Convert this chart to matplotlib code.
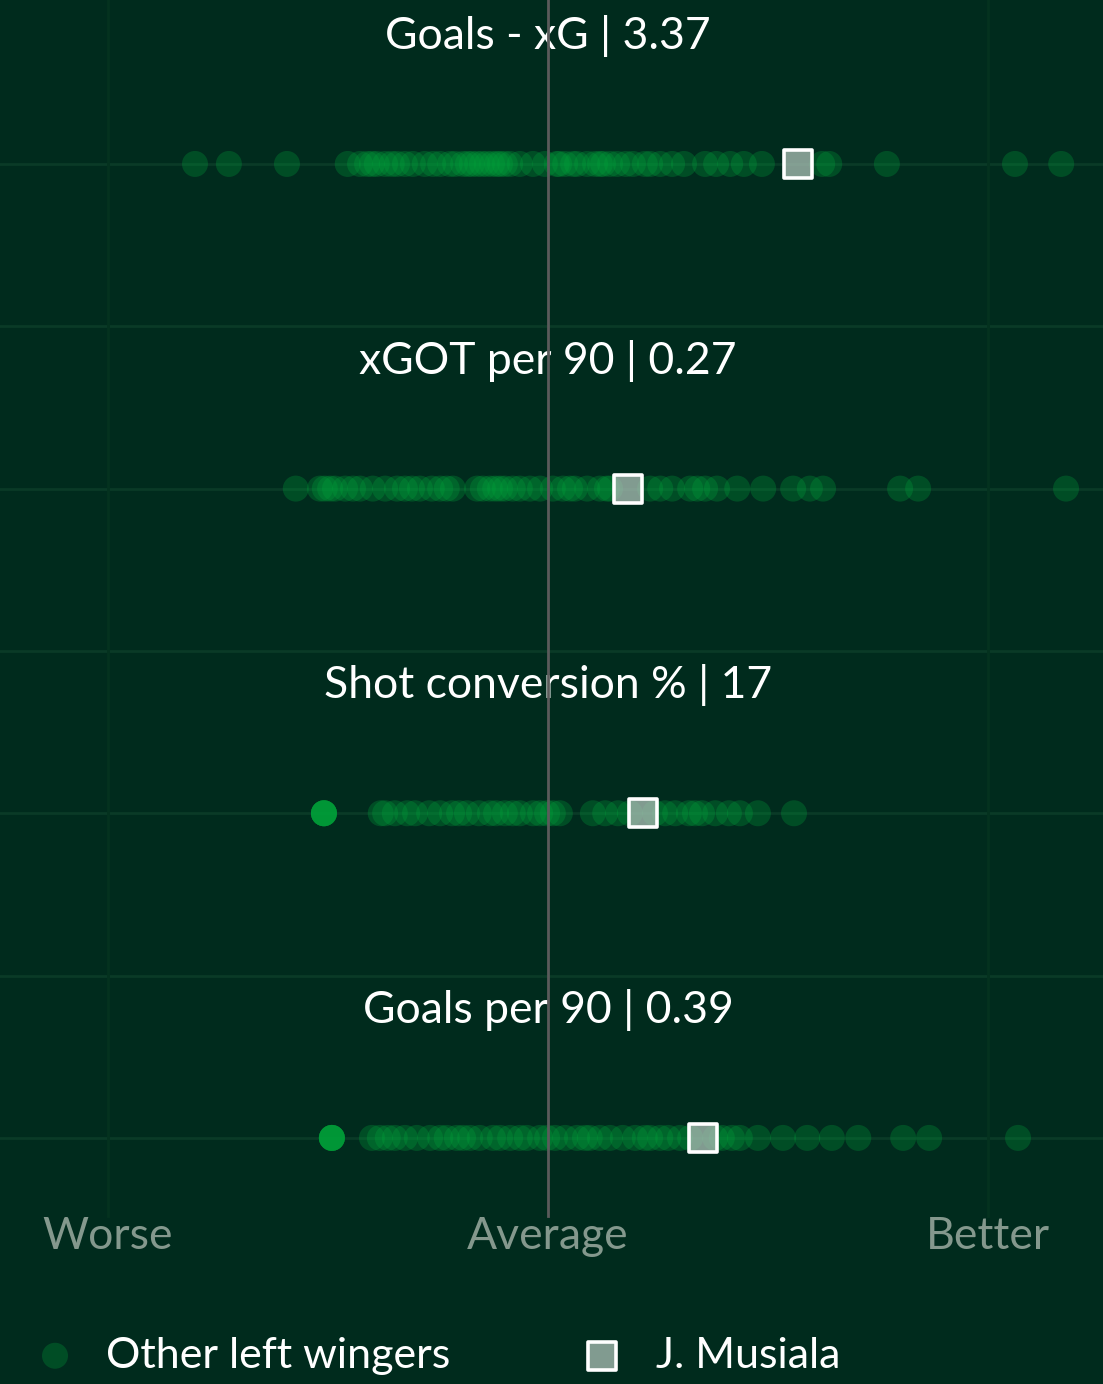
import matplotlib
matplotlib.use("Agg")
import matplotlib.pyplot as plt
from matplotlib import font_manager

# ---------------- data (scale: -100 = worse, 0 = average, 100 = better) -------------
metrics = ["Goals - xG", "xGOT per 90", "Shot conversion %", "Goals per 90"]
musiala_labels = ["3.37", "0.27", "17", "0.39"]
musiala_scores = [56.8, 18.2, 21.6, 35.2]

goals_minus_xg = [-80.2, -72.5, -59.3, -45.5, -42.7, -41.1, -40.0, -38.9, -37.0, -35.5,
                  -34.3, -32.5, -30.7, -28.0, -26.1, -24.5, -22.3, -21.1, -19.3, -18.2,
                  -17.3, -16.1, -15.0, -13.9, -12.7, -11.6, -10.9, -9.8, -8.6, -6.4,
                  -3.4, -0.7, 2.0, 2.5, 3.9, 5.7, 6.6, 8.9, 10.7, 11.8, 12.5, 14.1,
                  15.7, 17.7, 19.3, 22.0, 23.2, 25.5, 28.2, 30.9, 35.7, 38.2, 41.4,
                  44.5, 48.6, 62.3, 63.9, 77.0, 106.1, 116.6]
xgot_per90 = [-57.3, -51.8, -50.7, -49.5, -48.4, -46.1, -44.3, -42.7, -39.8, -37.0,
              -34.3, -32.5, -30.9, -29.1, -26.4, -24.5, -23.0, -21.6, -16.1, -14.8,
              -13.2, -12.0, -10.9, -9.8, -8.0, -6.4, -4.1, -1.8, 1.1, 3.4, 5.0, 6.1,
              8.9, 11.8, 13.4, 14.1, 23.2, 25.5, 28.2, 32.3, 33.9, 35.7, 38.4, 43.0,
              48.9, 55.7, 59.5, 62.5, 80.0, 84.1, 117.7]
shot_conversion = [-50.9, -50.9, -50.9, -50.9, -50.9, -50.9, -50.9,
                   -38.0, -37.0, -34.8, -32.0, -30.2, -27.0, -24.5, -21.8, -20.2,
                   -18.4, -15.7, -13.2, -11.8, -9.8, -8.0, -6.4, -3.4, -1.8, -0.2,
                   1.1, 2.7, 10.2, 13.0, 15.9, 18.6, 24.3, 26.6, 28.9, 32.0, 33.4,
                   35.0, 38.0, 41.1, 43.6, 47.7, 55.9]
goals_per90 = [-49.1, -49.1, -49.1, -49.1, -49.1, -49.1, -49.1,
               -40.0, -38.2, -36.4, -34.8, -32.5, -29.8, -26.8, -24.5, -23.0, -20.7,
               -19.3, -17.7, -15.5, -12.5, -10.9, -8.6, -6.4, -4.8, -1.8, -0.2, 1.6,
               3.9, 6.6, 8.4, 9.5, 11.8, 14.1, 17.0, 19.8, 22.0, 23.2, 25.5, 27.3,
               30.0, 32.3, 38.0, 39.5, 41.8, 43.6, 47.7, 53.4, 58.9, 64.5, 70.5,
               80.7, 86.6, 106.8]
others = [goals_minus_xg, xgot_per90, shot_conversion, goals_per90]

scale_labels = ["Worse", "Average", "Better"]
scale_positions = [-100, 0, 100]
legend_labels = ["Other left wingers", "J. Musiala"]

# ---------------- style ----------------
BG = "#002b1d"
GRID = "#0a3a27"
DOT = "#00a33a"
SQ_FILL = (0.68, 0.76, 0.72, 0.75)

avail = {f.name for f in font_manager.fontManager.ttflist}
FONT = "Lato" if "Lato" in avail else "DejaVu Sans"
plt.rcParams["font.family"] = [FONT, "DejaVu Sans"]

fig = plt.figure(figsize=(11.03, 13.84), dpi=100, facecolor=BG)
ax = fig.add_axes([0, 0, 1, 1])
ax.set_facecolor(BG)
ax.set_xlim(-124.5, 126.1)
ax.set_ylim(3.758, -0.505)
ax.axis("off")

# grid
for y in [0, 0.5, 1, 1.5, 2, 2.5, 3]:
    ax.axhline(y, color=GRID, lw=2, zorder=0)
for x in [-100, 100]:
    ax.plot([x, x], [-0.6, 3.24], color="#04321f", lw=2, zorder=0)
ax.plot([0, 0], [-0.6, 3.24], color="#5b5b5b", lw=2, zorder=6)

for i, (name, vals) in enumerate(zip(metrics, others)):
    ax.scatter(vals, [i] * len(vals), s=350, color=DOT, alpha=0.29,
               edgecolors="none", zorder=2)
    ax.scatter([musiala_scores[i]], [i], marker="s", s=420, facecolor=SQ_FILL,
               edgecolor="white", linewidths=2.6, zorder=4)
    ax.text(0, i - 0.394, f"{name} | {musiala_labels[i]}", ha="center", va="center",
            fontsize=32, color="white", fontweight="normal", zorder=5)

for lab, pos in zip(scale_labels, scale_positions):
    ax.text(pos, 3.305, lab, ha="center", va="center", fontsize=32,
            color="#84988d", fontweight="normal")

# legend
ax.scatter([-112.0], [3.671], s=350, color=DOT, alpha=0.29, edgecolors="none")
ax.text(-100.5, 3.671, legend_labels[0], ha="left", va="center", fontsize=31,
        color="white", fontweight="normal")
ax.scatter([12.3], [3.671], marker="s", s=420, facecolor=SQ_FILL,
           edgecolor="white", linewidths=2.6)
ax.text(24.5, 3.671, legend_labels[1], ha="left", va="center", fontsize=31,
        color="white", fontweight="normal")

fig.savefig("out.png", dpi=100, facecolor=BG)
